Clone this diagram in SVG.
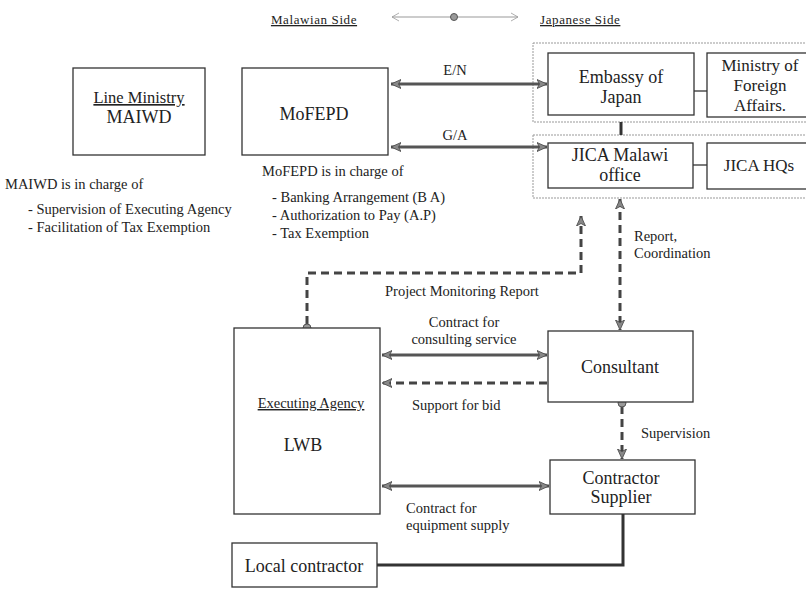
<svg xmlns="http://www.w3.org/2000/svg" width="806" height="589" viewBox="0 0 806 589">
  <defs>
    <marker id="head" markerUnits="userSpaceOnUse" markerWidth="12" markerHeight="10" refX="10" refY="5" orient="auto-start-reverse">
      <path d="M0,0.5 L10,5 L0,9.5 L2.5,5 Z" fill="#888" stroke="#444" stroke-width="0.8"/>
    </marker>
    <marker id="thin" markerUnits="userSpaceOnUse" markerWidth="10" markerHeight="10" refX="8" refY="5" orient="auto-start-reverse">
      <path d="M1,1 L8,5 L1,9" fill="none" stroke="#999" stroke-width="0.8"/>
    </marker>
  </defs>
  <style>
    .box { fill: #fff; stroke: #333; stroke-width: 1.3; }
    .grp { fill: none; stroke: #999; stroke-width: 1; stroke-dasharray: 2 1; }
    .solid { fill: none; stroke: #555; stroke-width: 3; }
    .dash { fill: none; stroke: #444; stroke-width: 3; stroke-dasharray: 8 5; }
    .dot { fill: #999; stroke: #555; stroke-width: 1; }
  </style>
  <rect width="806" height="589" fill="#fff"/>

  <!-- header -->
  <g id="header" fill="#222">
    <text x="314" y="24" font-family="Liberation Serif" font-size="13" letter-spacing="0.6" text-anchor="middle" text-decoration="underline">Malawian Side</text>
    <line x1="392" y1="17" x2="518" y2="17" stroke="#999" stroke-width="1" marker-start="url(#thin)" marker-end="url(#thin)"/>
    <circle cx="454" cy="17" r="3.5" class="dot"/>
    <text x="540" y="24" font-family="Liberation Serif" font-size="13" letter-spacing="0.6" text-decoration="underline">Japanese Side</text>
  </g>

  <!-- Japanese side groupings -->
  <rect x="533" y="43" width="280" height="79" class="grp"/>
  <rect x="533" y="135" width="280" height="63" class="grp"/>

  <!-- connectors -->
  <g id="connectors">
    <line x1="391" y1="84" x2="547" y2="84" class="solid" marker-start="url(#head)" marker-end="url(#head)"/>
    <line x1="391" y1="147" x2="547" y2="147" class="solid" marker-start="url(#head)" marker-end="url(#head)"/>
    <line x1="694" y1="91" x2="707" y2="91" stroke="#333" stroke-width="1.3"/>
    <line x1="693" y1="165" x2="707" y2="165" stroke="#333" stroke-width="1.3"/>
    <line x1="621" y1="122" x2="621" y2="135" stroke="#333" stroke-width="3"/>
    <line x1="620" y1="199" x2="620" y2="330" class="dash" marker-start="url(#head)" marker-end="url(#head)"/>
    <path d="M307,324 V273 H581 V216" class="dash" stroke-dasharray="12 14" marker-end="url(#head)"/>
    <line x1="382" y1="355" x2="547" y2="355" class="solid" marker-start="url(#head)" marker-end="url(#head)"/>
    <line x1="547" y1="383" x2="382" y2="383" class="dash" marker-end="url(#head)"/>
    <line x1="622" y1="406" x2="622" y2="459" class="dash" marker-end="url(#head)"/>
    <line x1="382" y1="486" x2="549" y2="486" class="solid" marker-start="url(#head)" marker-end="url(#head)"/>
    <path d="M377,565 H623 V514" fill="none" stroke="#333" stroke-width="3"/>
    <circle cx="307" cy="328" r="4" class="dot"/>
    <circle cx="622" cy="403" r="4" class="dot"/>
  </g>

  <!-- connector labels -->
  <g id="labels" fill="#222" font-size="14.5">
    <text x="455" y="75" font-family="Liberation Serif" text-anchor="middle">E/N</text>
    <text x="455" y="140" font-family="Liberation Serif" text-anchor="middle">G/A</text>
    <text x="634" y="241" font-family="Liberation Serif">Report,</text>
    <text x="634" y="258" font-family="Liberation Serif">Coordination</text>
    <text x="385" y="296" font-family="Liberation Serif">Project Monitoring Report</text>
    <text x="464" y="327" font-family="Liberation Serif" text-anchor="middle">Contract for</text>
    <text x="464" y="344" font-family="Liberation Serif" text-anchor="middle">consulting service</text>
    <text x="412" y="410" font-family="Liberation Serif">Support for bid</text>
    <text x="641" y="438" font-family="Liberation Serif">Supervision</text>
    <text x="406" y="513" font-family="Liberation Serif">Contract for</text>
    <text x="406" y="530" font-family="Liberation Serif">equipment supply</text>
  </g>

  <g id="line-ministry" fill="#222">
    <rect x="73" y="68" width="132" height="87" class="box"/>
    <text x="139" y="103" font-family="Liberation Serif" font-size="16.5" text-anchor="middle" text-decoration="underline">Line Ministry</text>
    <text x="139" y="123" font-family="Liberation Serif" font-size="18" text-anchor="middle">MAIWD</text>
  </g>
  <g id="maiwd-notes" fill="#222" font-size="14.5">
    <text x="5" y="189" font-family="Liberation Serif">MAIWD is in charge of</text>
    <text x="28" y="214" font-family="Liberation Serif">- Supervision of Executing Agency</text>
    <text x="28" y="232" font-family="Liberation Serif">- Facilitation of Tax Exemption</text>
  </g>

  <g id="mofepd" fill="#222">
    <rect x="242" y="68" width="146" height="87" class="box"/>
    <text x="314" y="120" font-family="Liberation Serif" font-size="18" text-anchor="middle">MoFEPD</text>
  </g>
  <g id="mofepd-notes" fill="#222" font-size="14.5">
    <text x="262" y="176" font-family="Liberation Serif">MoFEPD is in charge of</text>
    <text x="272" y="202" font-family="Liberation Serif">- Banking Arrangement (B A)</text>
    <text x="272" y="220" font-family="Liberation Serif">- Authorization to Pay (A.P)</text>
    <text x="272" y="238" font-family="Liberation Serif">- Tax Exemption</text>
  </g>

  <g id="embassy" fill="#222">
    <rect x="548" y="53" width="146" height="62" class="box"/>
    <text x="621" y="83" font-family="Liberation Serif" font-size="18" text-anchor="middle">Embassy of</text>
    <text x="621" y="103" font-family="Liberation Serif" font-size="18" text-anchor="middle">Japan</text>
  </g>
  <g id="mofa" fill="#222">
    <rect x="707" y="53" width="105" height="64" class="box"/>
    <text x="760" y="71" font-family="Liberation Serif" font-size="17" text-anchor="middle">Ministry of</text>
    <text x="760" y="91" font-family="Liberation Serif" font-size="17" text-anchor="middle">Foreign</text>
    <text x="760" y="111" font-family="Liberation Serif" font-size="17" text-anchor="middle">Affairs.</text>
  </g>

  <g id="jica-malawi" fill="#222">
    <rect x="548" y="143" width="145" height="45" class="box"/>
    <text x="620" y="161" font-family="Liberation Serif" font-size="18" text-anchor="middle">JICA Malawi</text>
    <text x="620" y="181" font-family="Liberation Serif" font-size="18" text-anchor="middle">office</text>
  </g>
  <g id="jica-hq" fill="#222">
    <rect x="707" y="143" width="105" height="46" class="box"/>
    <text x="759" y="171" font-family="Liberation Serif" font-size="17" text-anchor="middle">JICA HQs</text>
  </g>

  <g id="executing-agency" fill="#222">
    <rect x="234" y="328" width="146" height="186" class="box"/>
    <text x="311" y="408" font-family="Liberation Serif" font-size="14.5" text-anchor="middle" text-decoration="underline">Executing  Agency</text>
    <text x="303" y="451" font-family="Liberation Serif" font-size="18" text-anchor="middle">LWB</text>
  </g>

  <g id="consultant" fill="#222">
    <rect x="548" y="331" width="145" height="71" class="box"/>
    <text x="620" y="373" font-family="Liberation Serif" font-size="18" text-anchor="middle">Consultant</text>
  </g>

  <g id="contractor" fill="#222">
    <rect x="550" y="460" width="145" height="54" class="box"/>
    <text x="621" y="484" font-family="Liberation Serif" font-size="18" text-anchor="middle">Contractor</text>
    <text x="621" y="503" font-family="Liberation Serif" font-size="18" text-anchor="middle">Supplier</text>
  </g>

  <g id="local-contractor" fill="#222">
    <rect x="232" y="543" width="145" height="44" class="box"/>
    <text x="304" y="572" font-family="Liberation Serif" font-size="18" text-anchor="middle">Local contractor</text>
  </g>
</svg>
